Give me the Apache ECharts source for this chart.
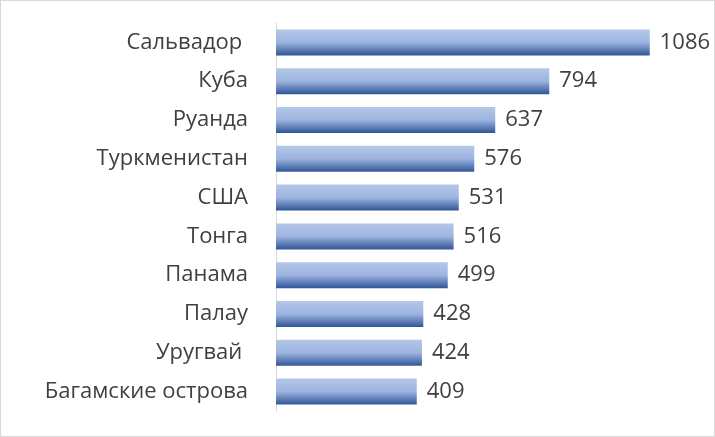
<!DOCTYPE html>
<html><head><meta charset="utf-8">
<script src="https://cdn.jsdelivr.net/npm/echarts@6/dist/echarts.min.js"></script>
<style>html,body{margin:0;padding:0;background:#fff}#c{width:715px;height:437px;box-sizing:border-box;border:1px solid #d9d9d9}</style>
</head><body><div id="c"></div>
<script>
var countries = ['Багамские острова', 'Уругвай ', 'Палау', 'Панама', 'Тонга', 'США', 'Туркменистан', 'Руанда', 'Куба', 'Сальвадор '];
var values = [409, 424, 428, 499, 516, 531, 576, 637, 794, 1086];

var chart = echarts.init(document.getElementById('c'));
chart.setOption({
  animation: false,
  grid: { left: 275, right: 25, top: 22, bottom: 25, containLabel: false },
  xAxis: { type: 'value', min: 0, max: 1200, show: false },
  yAxis: {
    type: 'category', data: countries,
    axisLine: { lineStyle: { color: '#d9d9d9' } },
    axisTick: { show: false },
    axisLabel: { fontFamily: 'Open Sans', fontSize: 22, color: '#404040', margin: 28 }
  },
  series: [{
    type: 'bar', data: values, barWidth: '67%',
    itemStyle: {
      color: new echarts.graphic.LinearGradient(0, 0, 0, 1, [
        { offset: 0, color: '#b4c7e7' },
        { offset: 0.5, color: '#9db4e0' },
        { offset: 1, color: '#2f5597' }
      ])
    },
    label: { show: true, position: 'right', distance: 10, fontFamily: 'Open Sans', fontSize: 22, color: '#404040' }
  }]
});
</script></body></html>
